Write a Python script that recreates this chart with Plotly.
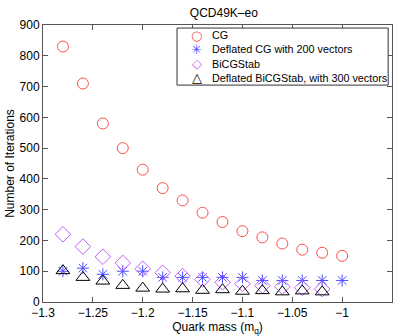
import plotly.graph_objects as go

mass = [-1.28, -1.26, -1.24, -1.22, -1.20, -1.18, -1.16, -1.14, -1.12, -1.10,
        -1.08, -1.06, -1.04, -1.02, -1.00]
cg = [830, 710, 580, 500, 430, 370, 330, 290, 260, 230, 210, 190, 170, 160, 150]
defl_cg = [100, 110, 90, 100, 100, 80, 80, 80, 80, 80, 70, 70, 70, 70, 70]
bicgstab = [220, 180, 147, 127, 108, 95, 84, 73, 64, 59, 53, 50, 46, 42]
defl_bicg = [102, 80, 68, 54, 45, 42, 43, 38, 40, 35, 37, 33, 36, 33]

names = ["CG", "Deflated CG with 200 vectors", "BiCGStab",
         "Deflated BiCGStab, with 300 vectors"]
colors = ["#ff4d4d", "#4d4dff", "#c65cff", "#000000"]
symbols = ["circle-open", "asterisk-open", "diamond-open", "triangle-up-open"]
legend_glyphs = ["\u25cb", "\u2733", "\u25c7", "\u25b3"]

fig = go.Figure()
series = [(mass, cg), (mass, defl_cg), (mass[:len(bicgstab)], bicgstab),
          (mass[:len(defl_bicg)], defl_bicg)]
sizes = [11, 10, 12, 12]
for (xs, ys), name, col, sym, sz in zip(series, names, colors, symbols, sizes):
    fig.add_trace(go.Scatter(
        x=xs, y=ys, mode="markers", name=name, showlegend=False,
        marker=dict(symbol=sym, size=sz, color=col, line=dict(width=1, color=col)),
    ))

# matlab-style legend box, tighter rows than plotly's own legend allows
lx0, lx1, ly0, ly1 = 0.384, 0.989, 0.783, 0.989
fig.add_shape(type="rect", xref="paper", yref="paper", x0=lx0, x1=lx1, y0=ly0, y1=ly1,
              line=dict(color="#333333", width=1), fillcolor="white", layer="above")
row_h = (ly1 - ly0) / 4
for i, (name, col, glyph) in enumerate(zip(names, colors, legend_glyphs)):
    yc = ly1 - row_h * (i + 0.5)
    fig.add_annotation(x=lx0 + 0.057, y=yc, xref="paper", yref="paper", text=glyph,
                       showarrow=False, font=dict(size=13, color=col,
                                                  family="DejaVu Sans"),
                       xanchor="center", yanchor="middle")
    fig.add_annotation(x=lx0 + 0.095, y=yc, xref="paper", yref="paper", text=name,
                       showarrow=False, font=dict(size=10.8, color="black"),
                       xanchor="left", yanchor="middle")

axis_style = dict(
    showline=True, linecolor="#555555", linewidth=1, mirror="ticks",
    ticks="inside", ticklen=5, tickcolor="#555555", showgrid=False, zeroline=False,
    tickfont=dict(size=12, color="black"), automargin=False,
)

fig.update_layout(
    width=407, height=336,
    margin=dict(l=43, r=15, t=25, b=34),
    paper_bgcolor="white", plot_bgcolor="white",
    font=dict(family="Liberation Sans, Arial, sans-serif", size=11, color="black"),
    title=dict(text="QCD49K\u2013eo", x=0.55, xanchor="center", y=0.975, yanchor="top",
               font=dict(size=12)),
    xaxis=dict(range=[-1.3, -0.95], tickvals=[-1.3, -1.25, -1.2, -1.15, -1.1, -1.05, -1.0, -0.95],
               ticktext=["\u22121.3", "\u22121.25", "\u22121.2", "\u22121.15", "\u22121.1",
                         "\u22121.05", "\u22121", "\u22120.95"],
               title=dict(text="Quark mass (m<sub>q</sub>)", standoff=0, font=dict(size=12)),
               **axis_style),
    yaxis=dict(range=[0, 900], tickvals=list(range(0, 901, 100)),
               title=dict(text="Number of Iterations", standoff=2, font=dict(size=12)),
               **axis_style),
)

fig.write_html("out.html", config={"displayModeBar": False},
               post_script="document.body.style.margin='0px';")
